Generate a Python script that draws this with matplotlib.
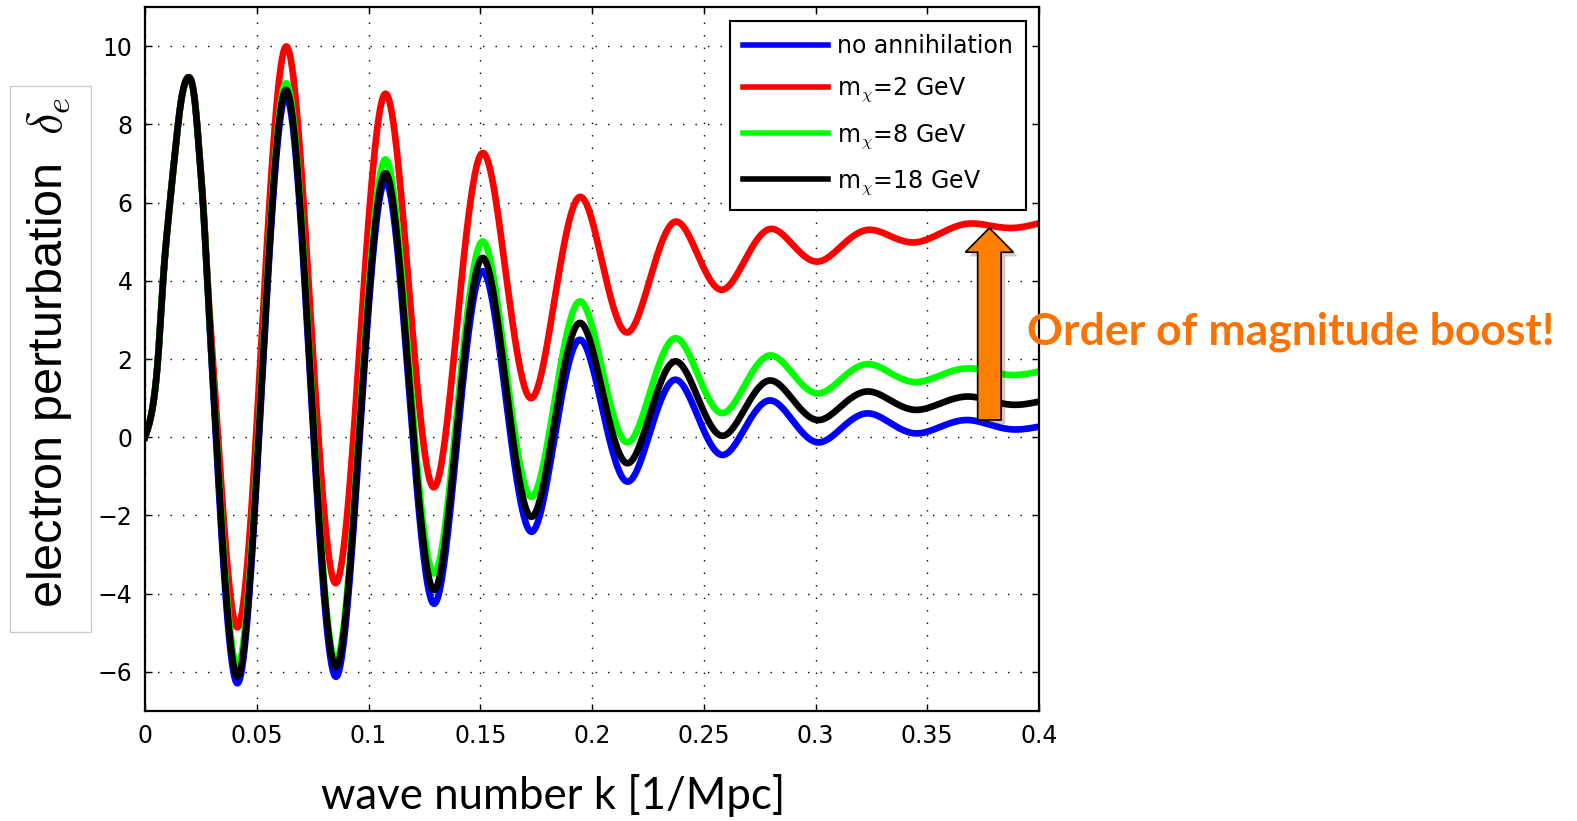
import numpy as np
import matplotlib.pyplot as plt
import matplotlib.patches as mpatches
import matplotlib.patheffects as pe

plt.rcParams['font.family'] = ['DejaVu Sans']
plt.rcParams['mathtext.fontset'] = 'cm'

# key points (start, extrema and the points half way between them)
k = [0.0, 0.0037, 0.006, 0.0079, 0.0104, 0.0134, 0.016, 0.0189, 0.0224, 0.0243, 0.0264, 0.028,
     0.0301, 0.0413, 0.0522, 0.0631, 0.0741, 0.0852, 0.0963, 0.1074, 0.1182, 0.1290, 0.1398, 0.1507,
     0.1616, 0.1725, 0.1834, 0.1943, 0.2048, 0.2154, 0.2262, 0.2371, 0.2475, 0.2578, 0.2686, 0.2793,
     0.2900, 0.3007, 0.3118, 0.3230, 0.3336, 0.3442, 0.3561, 0.3680, 0.3780, 0.3880, 0.4000]

rise = [0, 0.87, 2.15, 3.85, 5.56, 7.26, 8.54, 9.18, 8.54, 7.26, 5.56, 3.85]

no_annihilation = rise + [1.65, -6.29, 1.22, 8.72, 1.30, -6.12, 0.21, 6.54, 1.15, -4.25, -0.01, 4.24,
                          0.92, -2.41, 0.04, 2.49, 0.68, -1.13, 0.17, 1.47, 0.51, -0.45, 0.25, 0.94,
                          0.41, -0.13, 0.24, 0.61, 0.36, 0.10, 0.27, 0.44, 0.32, 0.20, 0.27]
m2_gev = [0, 0.87, 2.15, 3.85, 5.56, 7.26, 8.54, 9.18, 8.56, 7.30, 5.65, 4.0] + \
         [2.2, -4.86, 2.57, 9.99, 3.13, -3.73, 2.53, 8.78, 3.75, -1.28, 2.99, 7.26,
          4.13, 1.00, 3.57, 6.14, 4.41, 2.68, 4.10, 5.51, 4.64, 3.77, 4.55, 5.32,
          4.91, 4.49, 4.90, 5.30, 5.14, 4.98, 5.22, 5.46, 5.41, 5.35, 5.47]
m8_gev = rise + [1.8, -5.87, 1.59, 9.05, 1.67, -5.72, 0.69, 7.10, 1.81, -3.48, 0.76, 5.00,
                 1.74, -1.52, 0.98, 3.47, 1.67, -0.13, 1.20, 2.53, 1.58, 0.62, 1.36, 2.09,
                 1.61, 1.12, 1.50, 1.87, 1.64, 1.41, 1.59, 1.76, 1.68, 1.59, 1.68]
m18_gev = rise + [1.75, -6.12, 1.38, 8.88, 1.51, -5.87, 0.44, 6.75, 1.43, -3.90, 0.34, 4.58,
                  1.28, -2.03, 0.45, 2.92, 1.13, -0.66, 0.64, 1.94, 0.99, 0.04, 0.75, 1.45,
                  0.95, 0.44, 0.81, 1.17, 0.94, 0.70, 0.87, 1.04, 0.94, 0.83, 0.91]

labels = ['no annihilation', r'm$_{\chi}$=2 GeV', r'm$_{\chi}$=8 GeV', r'm$_{\chi}$=18 GeV']
colors = ['#0000ff', '#ff0000', '#00ff00', '#000000']
xticklabels = ['0', '0.05', '0.1', '0.15', '0.2', '0.25', '0.3', '0.35', '0.4']
yticks = [-6, -4, -2, 0, 2, 4, 6, 8, 10]


def smooth_line(x, y, xs):
    # natural cubic spline through the read points, only for drawing
    x = np.asarray(x, float)
    y = np.asarray(y, float)
    n = len(x)
    h = np.diff(x)
    A = np.zeros((n, n))
    b = np.zeros(n)
    A[0, 0] = A[-1, -1] = 1
    for i in range(1, n - 1):
        A[i, i - 1] = h[i - 1]
        A[i, i] = 2 * (h[i - 1] + h[i])
        A[i, i + 1] = h[i]
        b[i] = 6 * ((y[i + 1] - y[i]) / h[i] - (y[i] - y[i - 1]) / h[i - 1])
    M = np.linalg.solve(A, b)
    i = np.clip(np.searchsorted(x, xs) - 1, 0, n - 2)
    t0 = x[i + 1] - xs
    t1 = xs - x[i]
    hi = h[i]
    return ((M[i] * t0**3 + M[i + 1] * t1**3) / (6 * hi)
            + (y[i] / hi - M[i] * hi / 6) * t0 + (y[i + 1] / hi - M[i + 1] * hi / 6) * t1)


fig = plt.figure(figsize=(15.77, 8.21), dpi=100)
ax = fig.add_axes([145 / 1577, 1 - 711 / 821, 894 / 1577, 704 / 821])

ks = np.linspace(0, 0.4, 3000)
for vals, c, lab in zip([no_annihilation, m2_gev, m8_gev, m18_gev], colors, labels):
    ax.plot(ks, smooth_line(k, vals, ks), color=c, lw=4.8, label=lab)

ax.set_xlim(0, 0.4)
ax.set_ylim(-7, 11)
ax.set_xticks(np.arange(9) * 0.05)
ax.set_xticklabels(xticklabels)
ax.set_yticks(yticks)
ax.tick_params(direction='in', top=True, right=True, length=5, width=1, labelsize=17, pad=9)
ax.grid(True, color='k', linestyle=(0, (1, 8)), linewidth=1)
for s in ax.spines.values():
    s.set_linewidth(1.6)

leg = ax.legend(loc='upper right', bbox_to_anchor=(0.9855, 0.98), borderaxespad=0,
                fontsize=17, handlelength=3.6, handletextpad=0.4, borderpad=0.55,
                framealpha=1, fancybox=False, edgecolor='k', labelspacing=0.75)
leg.get_frame().set_linewidth(1.5)
for line in leg.get_lines():
    line.set_linewidth(4)

fig.text(553 / 1577, 1 - 795 / 821, 'wave number k [1/Mpc]', family=['Lato', 'DejaVu Sans'],
         fontsize=31.5, ha='center', va='center')

# y label in its own light box
fig.patches.append(mpatches.Rectangle((10 / 1577, 1 - 631.6 / 821), 81 / 1577, 546 / 821,
                                      transform=fig.transFigure, fill=True, facecolor='white',
                                      edgecolor='#cccccc', linewidth=1))
fig.text(49 / 1577, 1 - 352 / 821, r'electron perturbation  $\delta_e$', rotation=90,
         ha='center', va='center', fontsize=35, family=['Liberation Sans', 'DejaVu Sans'])

# arrow and note
arrow = mpatches.FancyArrow(0.3778, 0.44, 0, 4.91, width=0.0105, head_width=0.0215,
                            head_length=0.62, length_includes_head=True,
                            facecolor='#ff7f00', edgecolor='k', linewidth=1.2,
                            zorder=10, clip_on=False)
arrow.set_path_effects([pe.SimplePatchShadow(offset=(3, -3), alpha=0.25), pe.Normal()])
ax.add_patch(arrow)
fig.text(1027 / 1577, 1 - 332 / 821, 'Order of magnitude boost!', color='#fa7204',
         fontsize=32, fontweight='bold', family=['Lato', 'DejaVu Sans'], va='center', ha='left')

fig.savefig('out.png', dpi=100)
